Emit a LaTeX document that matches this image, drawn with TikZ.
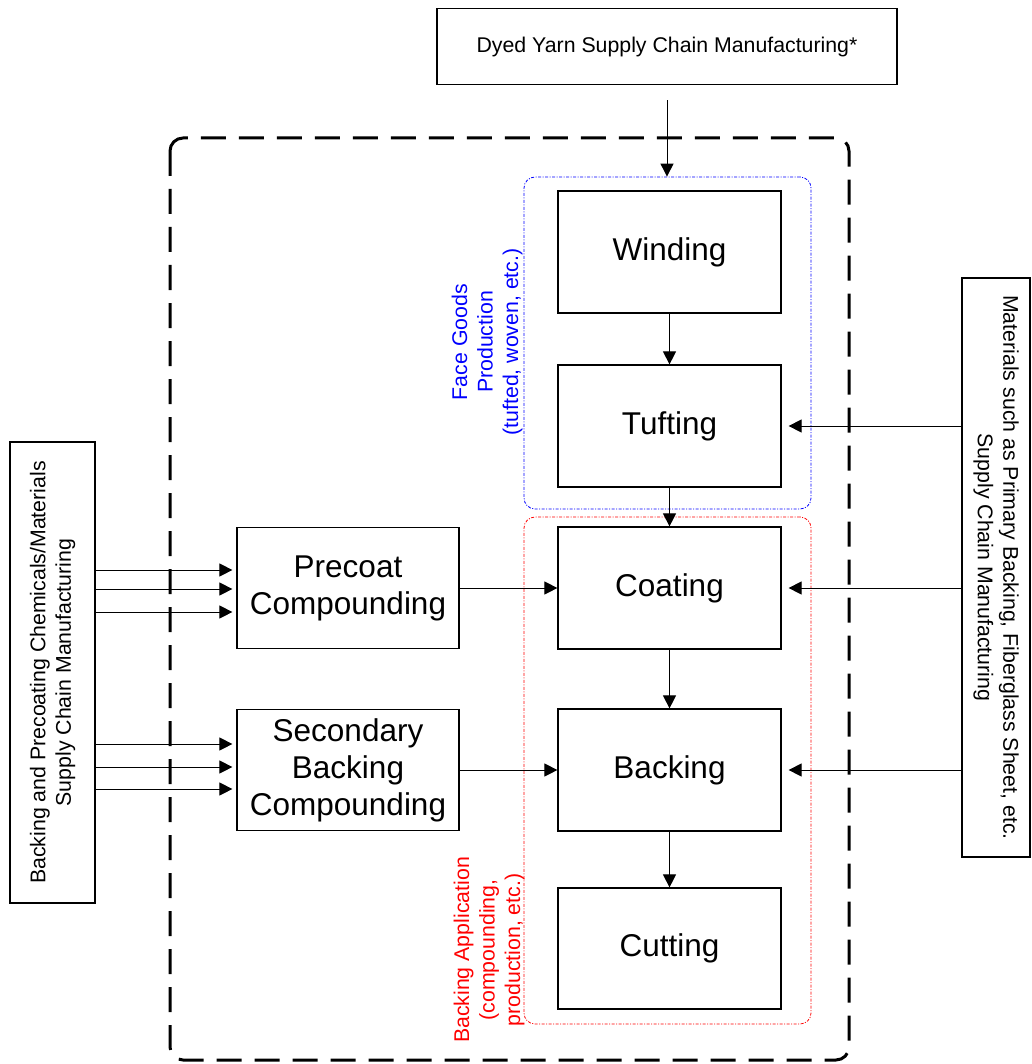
\documentclass[tikz,border=0pt]{standalone}
\usepackage{fontspec}
\setmainfont{Liberation Sans}
\usetikzlibrary{arrows.meta}
\begin{document}
\begin{tikzpicture}[x=1pt,y=-1pt]
        		\tikzstyle{step box}=[rectangle,draw=black,line width=1.2pt,inner sep=0pt,align=center,font=\fontsize{31.5}{37}\selectfont]
        		\tikzstyle{supply}=[rectangle,draw=black,line width=1.1pt,inner sep=0pt,align=center,font=\fontsize{21.3}{25.5}\selectfont]
        		\tikzstyle{group}=[draw,line width=0.8pt,rounded corners=11pt,dash pattern=on 3pt off 1.5pt on 1pt off 1.5pt]
        		\tikzstyle{grouplabel}=[rotate=90,align=center,font=\fontsize{21.3}{25.5}\selectfont]
        		\tikzstyle{edge}=[draw, line width=1pt, -{Triangle[length=13pt,width=13pt]}]
        		\useasboundingbox (0,0) rectangle (1031,1064);
       			\begin{scope}
			        % plant boundary and groups
			        \draw [line width=3pt,rounded corners=13pt,dash pattern=on 25pt off 13pt] (170,138) rectangle (849,1060);
			        \node [group,draw=blue,minimum width=287pt,minimum height=332pt] (face) at (667.5,343) {};
			        \node [group,draw=red,minimum width=287pt,minimum height=507pt] (appl) at (667.5,770.5) {};
			        \node [grouplabel,text=blue] (facetxt) at (487,342) {Face Goods\\Production\\(tufted, woven, etc.)};
			        \node [grouplabel,text=red] (appltxt) at (489,950) {Backing Application\\(compounding,\\production, etc.)};
			        % supply chains
			        \node [supply,minimum width=460pt,minimum height=76pt] (yarn) at (667,46.5) {Dyed Yarn Supply Chain Manufacturing*};
			        \node [supply,minimum width=85pt,minimum height=461pt] (chem) at (52.5,672.5) {};
			        \node [grouplabel] (chemtxt) at (chem.center) {Backing and Precoating Chemicals/Materials\\Supply Chain Manufacturing};
			        \node [supply,minimum width=68pt,minimum height=579pt] (mat) at (996,567.5) {};
			        \node [grouplabel,rotate=180] (mattxt) at (mat.center) {Materials such as Primary Backing, Fiberglass Sheet, etc.\\Supply Chain Manufacturing};
			        % process steps
			        \node [step box,minimum width=223pt,minimum height=122pt] (winding) at (669.5,252) {Winding};
			        \node [step box,minimum width=223pt,minimum height=122pt] (tufting) at (669.5,426) {Tufting};
			        \node [step box,minimum width=223pt,minimum height=122pt] (coating) at (669.5,588) {Coating};
			        \node [step box,minimum width=223pt,minimum height=122pt] (backing) at (669.5,770) {Backing};
			        \node [step box,minimum width=223pt,minimum height=121pt] (cutting) at (669.5,948.5) {Cutting};
			        \node [step box,minimum width=222pt,minimum height=121pt] (precoat) at (348,588) {Precoat\\Compounding};
			        \node [step box,minimum width=222pt,minimum height=121pt] (second) at (348,770) {Secondary\\Backing\\Compounding};
			        % flows
			        \path (yarn.south) edge [edge,shorten <=15pt] (yarn.south |- face.north);
			        \path (winding) edge [edge] (tufting);
			        \path (tufting) edge [edge] (coating);
			        \path (coating) edge [edge] (backing);
			        \path (backing) edge [edge] (cutting);
			        \path (precoat) edge [edge] (coating);
			        \path (second) edge [edge] (backing);
			        \foreach \t in {tufting,coating,backing}
			            \path (mat.west |- \t.east) edge [edge,shorten >=7pt] (\t.east);
			        \foreach \y in {570,589,612}
			            \path (chem.east |- 0,\y) edge [edge,shorten >=4pt] (precoat.west |- 0,\y);
			        \foreach \y in {744,767,789}
			            \path (chem.east |- 0,\y) edge [edge,shorten >=4pt] (second.west |- 0,\y);
        		\end{scope}
      		\end{tikzpicture}
\end{document}
